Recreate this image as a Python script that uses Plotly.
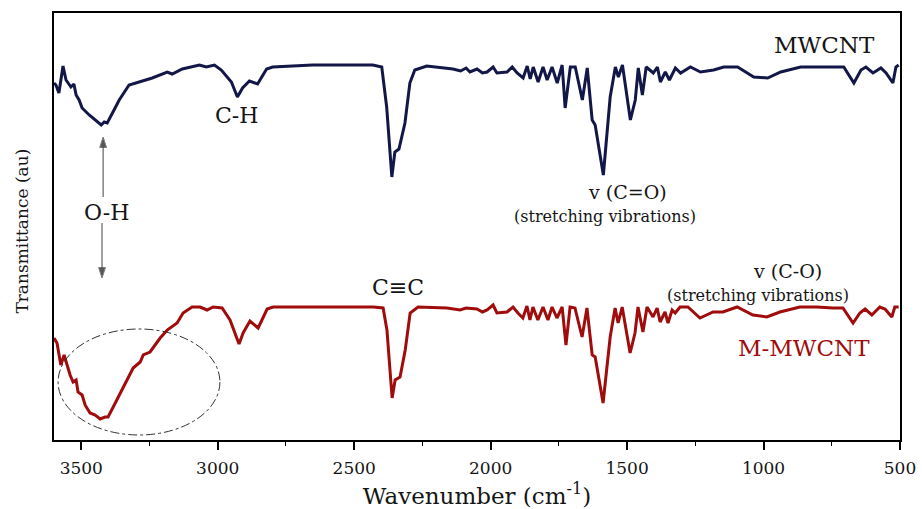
import plotly.graph_objects as go

# ---- data (wavenumber in cm-1, transmittance in arbitrary units) ----
mw_wn = [3600, 3593, 3582, 3567, 3556, 3538, 3527, 3519, 3508, 3497, 3471, 3427, 3416, 3405,
         3380, 3361, 3325, 3288, 3240, 3185, 3167, 3130, 3067, 3042, 3012, 2987, 2950, 2928,
         2909, 2884, 2854, 2821, 2799, 2652, 2480, 2432, 2399, 2381, 2362, 2351, 2336, 2314,
         2296, 2278, 2234, 2160, 2138, 2110, 2090, 2076, 2050, 2030, 2013, 1991, 1977, 1940,
         1921, 1903, 1881, 1866, 1855, 1844, 1826, 1808, 1793, 1775, 1756, 1738, 1727, 1708,
         1690, 1664, 1646, 1628, 1617, 1587, 1562, 1543, 1532, 1517, 1488, 1470, 1459, 1444,
         1430, 1404, 1389, 1378, 1360, 1345, 1323, 1304, 1268, 1231, 1183, 1146, 1095, 1036,
         985, 937, 864, 816, 764, 706, 669, 643, 625, 599, 570, 551, 526, 515, 505]
mw_t = [357, 355, 347, 374, 360, 353, 356, 345, 340, 332, 325, 315, 318, 317,
        330, 340, 355, 358, 362, 368, 366, 371, 375, 373, 375, 370, 358, 343,
        352, 359, 356, 371, 373, 375, 375, 375, 373, 333, 263, 288, 291, 317,
        357, 370, 374, 372, 371, 369, 372, 368, 371, 367, 368, 373, 367, 368,
        373, 367, 362, 374, 361, 373, 358, 373, 360, 373, 357, 375, 332, 373,
        373, 340, 372, 320, 315, 265, 343, 373, 363, 375, 320, 340, 372, 345,
        373, 367, 373, 358, 368, 360, 372, 367, 373, 368, 370, 373, 373, 363,
        362, 368, 373, 373, 373, 373, 357, 370, 373, 367, 372, 367, 357, 373, 375]

mm_wn = [3600, 3589, 3575, 3563, 3552, 3541, 3530, 3519, 3512, 3497, 3486, 3468, 3449, 3431,
         3413, 3402, 3383, 3350, 3310, 3284, 3273, 3248, 3211, 3185, 3149, 3127, 3094, 3065,
         3039, 3017, 2984, 2955, 2929, 2922, 2907, 2882, 2852, 2819, 2797, 2672, 2430, 2394,
         2380, 2361, 2350, 2332, 2313, 2295, 2266, 2160, 2112, 2090, 2050, 2030, 2013, 1991,
         1977, 1940, 1918, 1900, 1882, 1867, 1856, 1845, 1827, 1808, 1790, 1775, 1757, 1738,
         1724, 1709, 1691, 1665, 1647, 1628, 1617, 1588, 1562, 1544, 1533, 1518, 1489, 1471,
         1460, 1442, 1427, 1405, 1390, 1379, 1361, 1350, 1335, 1324, 1306, 1277, 1233, 1185,
         1149, 1097, 1039, 988, 940, 867, 805, 746, 709, 672, 647, 628, 603, 574, 555, 530,
         519, 505]
mm_t = [102, 97, 75, 85, 75, 65, 58, 60, 48, 45, 35, 27, 25, 21,
        23, 23, 33, 50, 72, 78, 85, 88, 102, 110, 117, 127, 133, 133,
        130, 133, 132, 120, 102, 96, 107, 119, 112, 131, 133, 133, 133, 132,
        110, 42, 60, 63, 90, 127, 133, 132, 130, 132, 131, 128, 130, 135,
        127, 128, 133, 127, 122, 134, 120, 133, 120, 133, 120, 133, 122, 133,
        95, 133, 132, 103, 132, 85, 83, 37, 103, 132, 117, 133, 87, 107,
        133, 108, 133, 123, 132, 118, 128, 117, 130, 127, 133, 133, 122, 128,
        128, 133, 125, 123, 128, 133, 133, 132, 132, 117, 127, 131, 125, 133, 131, 123,
        133, 133]

x_ticks = [3500, 3000, 2500, 2000, 1500, 1000, 500]

NAVY = "#121747"
RED = "#a00c0c"
SERIF = "DejaVu Serif"
INK = "#151515"

fig = go.Figure()
fig.add_trace(go.Scatter(x=mw_wn, y=mw_t, mode="lines", name="MWCNT",
                         line=dict(color=NAVY, width=3)))
fig.add_trace(go.Scatter(x=mm_wn, y=mm_t, mode="lines", name="M-MWCNT",
                         line=dict(color=RED, width=3)))

# O-H arrows (line with a triangular head at the tip)
fig.add_trace(go.Scatter(x=[3420, 3420], y=[243, 303], mode="lines+markers",
                         line=dict(color="#444444", width=1),
                         marker=dict(symbol="arrow", angleref="previous", size=[0, 11],
                                     color="#111111"),
                         hoverinfo="skip"))
fig.add_trace(go.Scatter(x=[3424, 3424], y=[217, 162], mode="lines+markers",
                         line=dict(color="#444444", width=1),
                         marker=dict(symbol="arrow", angleref="previous", size=[0, 11],
                                     color="#111111"),
                         hoverinfo="skip"))

# dash-dot ellipse around O-H band of M-MWCNT
fig.add_shape(type="circle", xref="x", yref="y", x0=3585, x1=2992, y0=5, y1=111,
              line=dict(color="#333333", width=1, dash="dashdot"))

ann = []
def txt(x, y, s, size, color=INK, xref="x", yref="y", xanchor="center", yanchor="middle", **kw):
    ann.append(dict(x=x, y=y, xref=xref, yref=yref, text=s, showarrow=False,
                    xanchor=xanchor, yanchor=yanchor,
                    font=dict(family=SERIF, size=size, color=color), **kw))

txt(775, 395, "MWCNT", 23)
txt(2930, 325, "C-H", 22)
txt(1497, 235, "v (C=O)", 19, yanchor="bottom")
txt(1581, 235, "(stretching vibrations)", 16, yanchor="top")
txt(2340, 153, "C≡C", 22)
txt(914, 156, "v (C-O)", 19, yanchor="bottom")
txt(1021, 156, "(stretching vibrations)", 16, yanchor="top")
txt(852, 92, "M-MWCNT", 23, color=RED)
txt(3409, 228, "O-H", 22)
txt(-0.038, 0.49, "Transmittance (au)", 17, xref="paper", yref="paper", textangle=-90)

fig.update_layout(
    width=922, height=509,
    margin=dict(l=54, r=22, t=13, b=69, autoexpand=False),
    paper_bgcolor="white", plot_bgcolor="white",
    showlegend=False,
    annotations=ann,
    font=dict(family=SERIF, color=INK),
)
fig.update_xaxes(
    range=[3600, 500], tickvals=x_ticks, ticktext=[str(v) for v in x_ticks],
    ticks="outside", ticklen=8, tickwidth=1.5, tickcolor="black",
    ticklabelstandoff=4, automargin=False,
    minor=dict(dtick=250, ticks="outside", ticklen=4, tickwidth=1.2, tickcolor="black"),
    showline=True, linewidth=2, linecolor="black", mirror=True,
    showgrid=False, zeroline=False,
    tickfont=dict(family=SERIF, size=17, color=INK),
    title=dict(text="Wavenumber (cm<sup>-1</sup>)", font=dict(family=SERIF, size=23, color=INK),
               standoff=14),
)
fig.update_yaxes(
    range=[0, 427], showticklabels=False, ticks="", automargin=False,
    showline=True, linewidth=2, linecolor="black", mirror=True,
    showgrid=False, zeroline=False,
)

fig.write_html("out.html")
